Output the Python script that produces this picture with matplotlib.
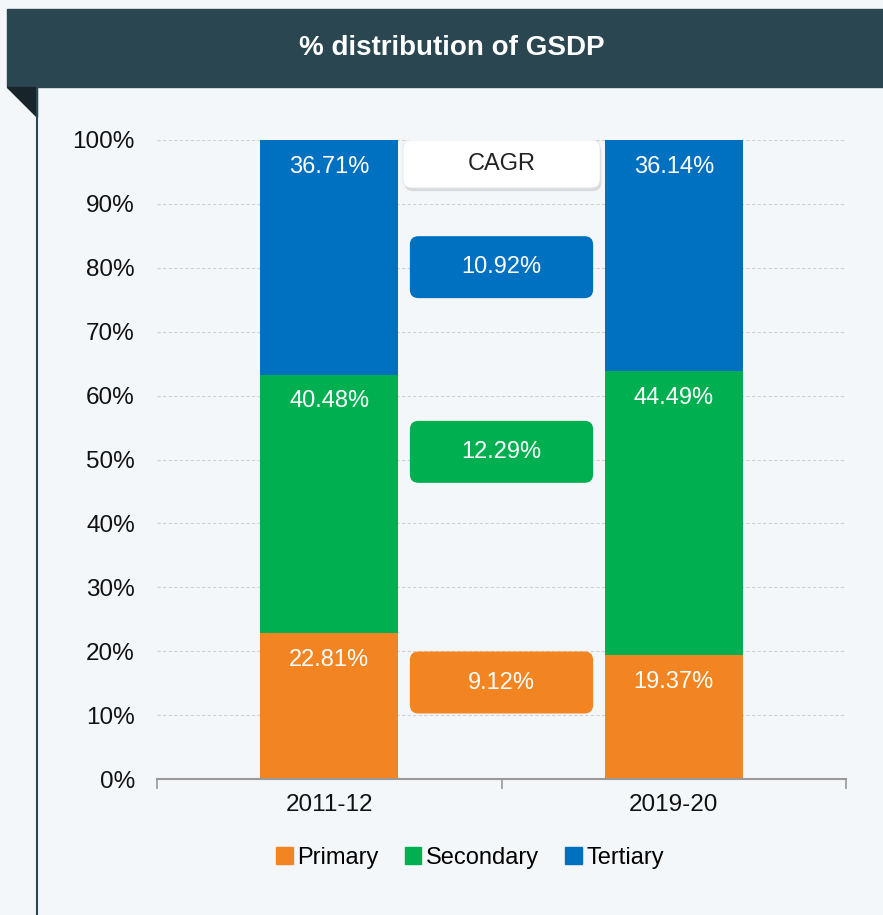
import matplotlib.pyplot as plt
from matplotlib.patches import Rectangle, Polygon, FancyBboxPatch
from matplotlib.lines import Line2D
import numpy as np

plt.rcParams['font.family'] = ['Liberation Sans', 'DejaVu Sans']

# data
years = ['2011-12', '2019-20']
sectors = ['Primary', 'Secondary', 'Tertiary']
primary = [22.81, 19.37]
secondary = [40.48, 44.49]
tertiary = [36.71, 36.14]
cagr = [9.12, 12.29, 10.92]
cagr_y = [15.1, 51.2, 80.1]   # vertical centre of each CAGR box

colours = ['#f28522', '#00b050', '#0070c0']
bg = '#f4f7f9'

fig = plt.figure(figsize=(8.83, 9.15), dpi=100)
fig.patch.set_facecolor(bg)
W, H = 883, 915

# header band with folded corner
fig.patches.append(Rectangle((7 / W, 1 - 87 / H), 1 - 7 / W, 78 / H,
                             transform=fig.transFigure, color='#2a4650', zorder=0))
fig.patches.append(Polygon([(7 / W, 1 - 87 / H), (37 / W, 1 - 87 / H), (37 / W, 1 - 117 / H)],
                           closed=True, transform=fig.transFigure, color='#17252b', zorder=0))
fig.lines.append(Line2D([37 / W, 37 / W], [0, 1 - 87 / H], transform=fig.transFigure,
                        color='#2a4650', lw=1.5))
fig.text(452 / W, 1 - 48 / H, '% distribution of GSDP', color='white', fontsize=20,
         fontweight='bold', ha='center', va='center')

ax = fig.add_axes([157 / W, 136 / H, 689 / W, 639 / H])
ax.set_facecolor(bg)

x = np.arange(len(years))
series = [primary, secondary, tertiary]
bottom = np.zeros(len(years))
for vals, col, name in zip(series, colours, sectors):
    vals = np.array(vals)
    ax.bar(x, vals, 0.4, bottom=bottom, color=col, label=name, zorder=2)
    for xi, b, v in zip(x, bottom, vals):
        ax.text(xi, b + v - 4.2, f'{v:.2f}%', color='white', fontsize=17,
                ha='center', va='center', zorder=3)
    bottom += vals

ax.set_xlim(-0.5, 1.5)
ax.set_ylim(0, 100)

# CAGR boxes
asp = (100 / 639) * 344.5
ax.add_patch(FancyBboxPatch((0.5 - 0.286 + 0.004, 92.5 - 0.5), 0.572, 7.5,
                            boxstyle='round,pad=0,rounding_size=0.025', mutation_aspect=asp,
                            fc='#c8c8c8', ec='none', alpha=0.6, zorder=3))
ax.add_patch(FancyBboxPatch((0.5 - 0.286, 92.5), 0.572, 7.5,
                            boxstyle='round,pad=0,rounding_size=0.025', mutation_aspect=asp,
                            fc='white', ec='#e6e6e6', lw=0.6, zorder=4))
ax.text(0.5, 96.2, 'CAGR', fontsize=17, color='#222222', ha='center', va='center', zorder=5)
for val, yc, col in zip(cagr, cagr_y, colours):
    ax.add_patch(FancyBboxPatch((0.5 - 0.266, yc - 4.85), 0.532, 9.7,
                                boxstyle='round,pad=0,rounding_size=0.025', mutation_aspect=asp,
                                fc=col, ec='none', zorder=4))
    ax.text(0.5, yc, f'{val:.2f}%', fontsize=17, color='white', ha='center', va='center', zorder=5)

ax.set_yticks(np.arange(0, 101, 10))
ax.set_yticklabels([f'{v}%' for v in range(0, 101, 10)], fontsize=17.5, color='#111111')
ax.yaxis.grid(True, color='#d0d0d0', ls=(0, (3, 2)), lw=0.8, zorder=0)
ax.tick_params(axis='y', length=0, pad=16)
ax.set_xticks([-0.5, 0.5, 1.5])
ax.set_xticklabels([])
ax.tick_params(axis='x', which='major', length=7, color='#999999', width=1.2, direction='out')
ax.set_xticks(x, minor=True)
ax.set_xticklabels(years, minor=True, fontsize=17.5, color='#111111')
ax.tick_params(axis='x', which='minor', length=0, pad=11)
for s in ['top', 'right', 'left']:
    ax.spines[s].set_visible(False)
ax.spines['bottom'].set_color('#999999')
ax.spines['bottom'].set_linewidth(1.5)

handles = [Rectangle((0, 0), 1, 1, color=c) for c in colours]
fig.legend(handles, sectors, loc='center', bbox_to_anchor=(470 / W, 1 - 858 / H),
           ncol=3, frameon=False, fontsize=17, handlelength=0.7, handleheight=0.7,
           handletextpad=0.2, columnspacing=1.1)

fig.savefig('out.png', dpi=100, facecolor=bg)
